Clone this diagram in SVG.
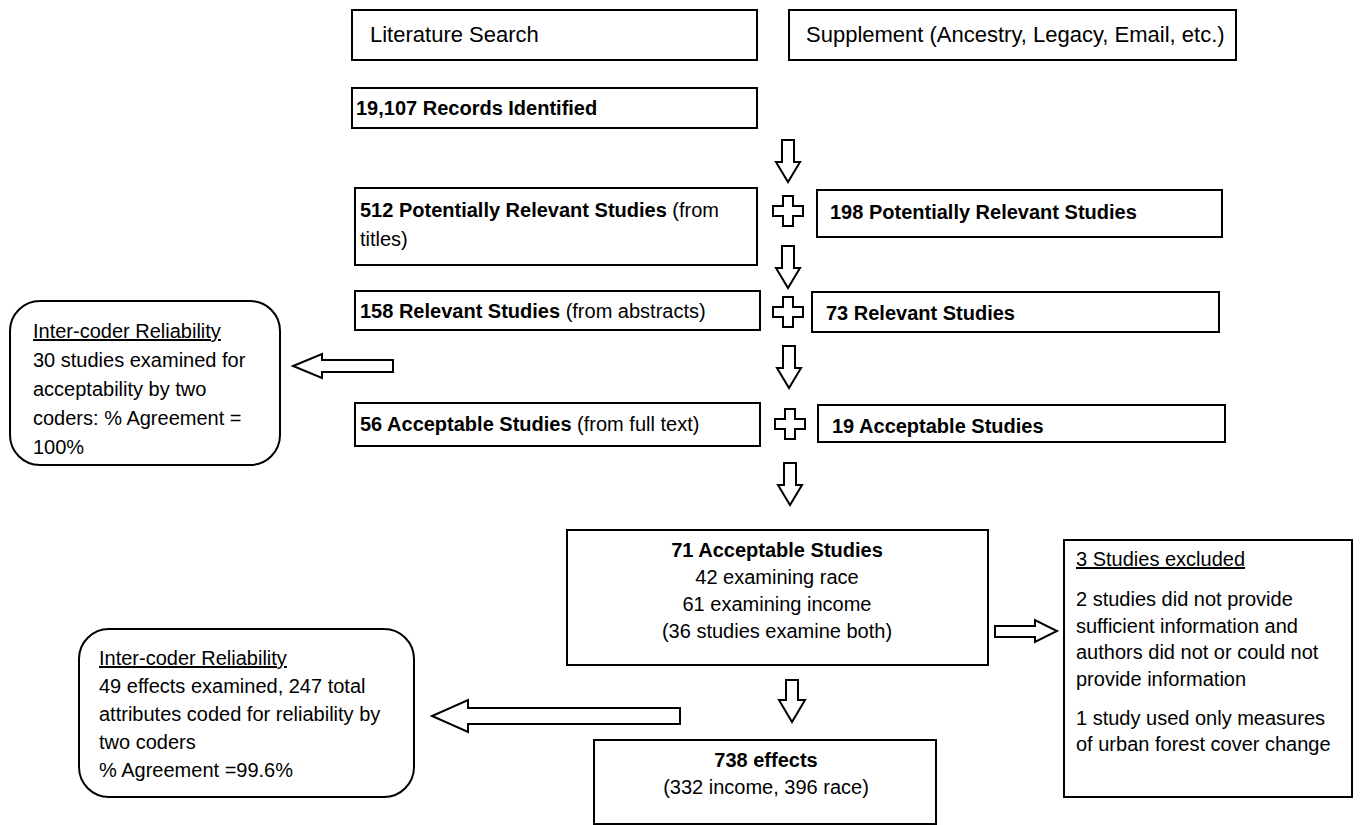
<svg xmlns="http://www.w3.org/2000/svg" width="1360" height="825" viewBox="0 0 1360 825">
<style>
.box{fill:#fff;stroke:#000;stroke-width:2}
.arr{fill:#fff;stroke:#000;stroke-width:2;stroke-linejoin:miter}
text{font-family:"Liberation Sans",Arial,sans-serif;font-size:20px;fill:#000}
.h{font-size:22px}
.b{font-weight:bold}
.u{text-decoration:underline}
.c{text-anchor:middle}
</style>
<defs>
<path id="down" class="arr" d="M-6,0 H6 V22 H12 L0,42 L-12,22 H-6 Z"/>
<path id="plus" class="arr" d="M-5,-15 H5 V-5 H15 V5 H5 V15 H-5 V5 H-15 V-5 H-5 Z"/>
</defs>
<rect width="1360" height="825" fill="#fff"/>
<g id="connectors">
<use href="#down" x="788" y="140"/>
<use href="#down" x="788" y="246"/>
<use href="#down" x="789" y="346"/>
<use href="#down" x="790" y="463"/>
<path class="arr" d="M786,680 H798 V700 H805 L792,722 L779,700 H786 Z"/>
<use href="#plus" x="788" y="211"/>
<use href="#plus" x="788" y="312"/>
<use href="#plus" x="790" y="424"/>
<path class="arr" d="M393,360 V372 H322 V378 L293,366 L322,354 V360 Z"/>
<path class="arr" d="M680,708 V724 H468 V732 L432,716 L468,700 V708 Z"/>
<path class="arr" d="M995,626 H1035 V620 L1057,631 L1035,642 V637 H995 Z"/>
</g>
<g id="lit-search">
<rect class="box" x="352" y="10" width="405" height="50"/>
<text class="h" x="370" y="42">Literature Search</text>
</g>
<g id="supplement">
<rect class="box" x="789" y="10" width="447" height="50"/>
<text class="h" x="806" y="42">Supplement (Ancestry, Legacy, Email, etc.)</text>
</g>
<g id="records">
<rect class="box" x="352" y="88" width="405" height="40"/>
<text class="b" x="356" y="115">19,107 Records Identified</text>
</g>
<g id="pot-512">
<rect class="box" x="355" y="188" width="402" height="77"/>
<text x="360" y="217"><tspan class="b">512 Potentially Relevant Studies</tspan> (from</text>
<text x="360" y="246">titles)</text>
</g>
<g id="pot-198">
<rect class="box" x="817" y="190" width="405" height="47"/>
<text class="b" x="830" y="219">198 Potentially Relevant Studies</text>
</g>
<g id="rel-158">
<rect class="box" x="355" y="291" width="405" height="39"/>
<text x="360" y="318"><tspan class="b">158 Relevant Studies</tspan> (from abstracts)</text>
</g>
<g id="rel-73">
<rect class="box" x="812" y="292" width="407" height="40"/>
<text class="b" x="826" y="320">73 Relevant Studies</text>
</g>
<g id="icr-1">
<rect class="box" x="10" y="301" width="270" height="164" rx="30" ry="30"/>
<text class="u" x="33" y="338">Inter-coder Reliability</text>
<text x="33" y="367">30 studies examined for</text>
<text x="33" y="396">acceptability by two</text>
<text x="33" y="425">coders: % Agreement =</text>
<text x="33" y="454">100%</text>
</g>
<g id="acc-56">
<rect class="box" x="355" y="403" width="405" height="43"/>
<text x="360" y="431"><tspan class="b">56 Acceptable Studies</tspan> (from full text)</text>
</g>
<g id="acc-19">
<rect class="box" x="818" y="405" width="407" height="37"/>
<text class="b" x="832" y="433">19 Acceptable Studies</text>
</g>
<g id="acc-71">
<rect class="box" x="567" y="530" width="421" height="135"/>
<text class="c b" x="777" y="557">71 Acceptable Studies</text>
<text class="c" x="777" y="584">42 examining race</text>
<text class="c" x="777" y="611">61 examining income</text>
<text class="c" x="777" y="638">(36 studies examine both)</text>
</g>
<g id="excluded">
<rect class="box" x="1064" y="540" width="288" height="257"/>
<text class="u" x="1076" y="566">3 Studies excluded</text>
<text x="1076" y="606">2 studies did not provide</text>
<text x="1076" y="633">sufficient information and</text>
<text x="1076" y="659">authors did not or could not</text>
<text x="1076" y="686">provide information</text>
<text x="1076" y="725">1 study used only measures</text>
<text x="1076" y="751">of urban forest cover change</text>
</g>
<g id="icr-2">
<rect class="box" x="79" y="629" width="335" height="168" rx="30" ry="30"/>
<text class="u" x="99" y="665">Inter-coder Reliability</text>
<text x="99" y="693">49 effects examined, 247 total</text>
<text x="99" y="721">attributes coded for reliability by</text>
<text x="99" y="749">two coders</text>
<text x="99" y="777">% Agreement =99.6%</text>
</g>
<g id="effects">
<rect class="box" x="594" y="740" width="342" height="84"/>
<text class="c b" x="766" y="767">738 effects</text>
<text class="c" x="766" y="794">(332 income, 396 race)</text>
</g>
</svg>
